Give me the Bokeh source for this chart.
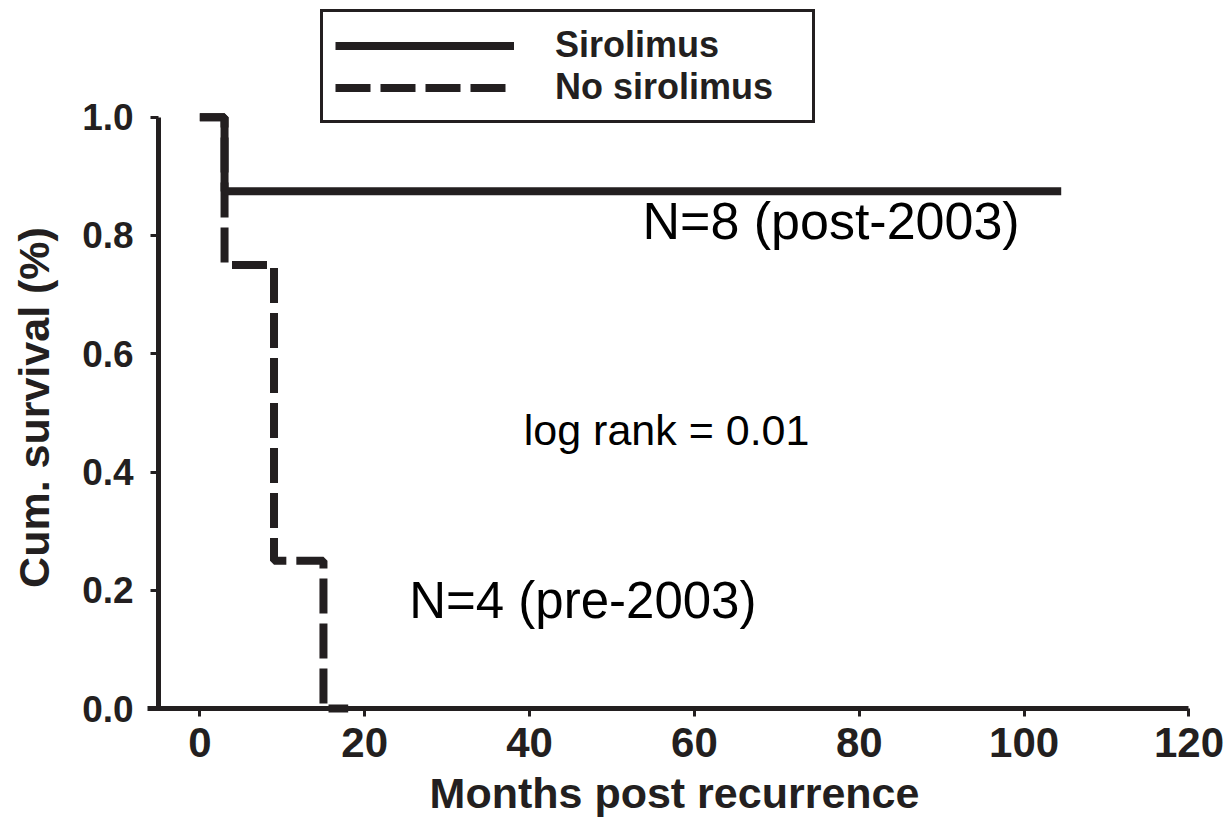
import math
from bokeh.plotting import figure
from bokeh.models import Range1d, Legend, LegendItem, Label, FixedTicker, PrintfTickFormatter
from bokeh.embed import file_html
from bokeh.resources import INLINE

# ---- data (Kaplan-Meier steps) ----
siro_months = [0, 3, 104.5]
siro_surv = [1.0, 0.875, 0.875]
nosiro_months = [0, 3, 9, 15, 18]
nosiro_surv = [1.0, 0.75, 0.25, 0.0, 0.0]

x_ticks = [0, 20, 40, 60, 80, 100, 120]
y_ticks = [0.0, 0.2, 0.4, 0.6, 0.8, 1.0]

legend_labels = ["Sirolimus", "No sirolimus"]
x_title = "Months post recurrence"
y_title = "Cum. survival (%)"
annotations = [
    ("N=8 (post-2003)", 53.7, 0.8248, "52px"),
    ("N=4 (pre-2003)", 25.4, 0.1830, "51px"),
    ("log rank = 0.01", 39.3, 0.4718, "43px"),
]

INK = "#231f20"
FONT = "Liberation Sans"
W, H = 1225, 817

# the frame fills the whole canvas; axes are placed at fixed data locations
p = figure(width=W, height=H,
           x_range=Range1d(-24.18, 124.43), y_range=Range1d(-0.1843, 1.1974),
           output_backend="svg", toolbar_location=None,
           min_border_left=0, min_border_right=0,
           min_border_top=0, min_border_bottom=0)
p.grid.grid_line_color = None
p.outline_line_color = None
p.background_fill_color = "white"
p.border_fill_color = "white"

r_no = p.step(nosiro_months, nosiro_surv, mode="after", line_width=8,
              line_color=INK, line_dash="35 10")
r_si = p.step(siro_months, siro_surv, mode="after", line_width=8,
              line_color=INK)

# x axis
xa = p.xaxis[0]
xa.fixed_location = 0
xa.ticker = FixedTicker(ticks=x_ticks)
xa.bounds = (-6.3, 120)
xa.axis_line_width = 5
xa.axis_line_color = INK
xa.major_tick_line_width = 3
xa.major_tick_line_color = INK
xa.major_tick_in = 0
xa.major_tick_out = 8
xa.minor_tick_line_color = None
xa.major_label_text_font = FONT
xa.major_label_text_font_style = "bold"
xa.major_label_text_font_size = "42px"
xa.major_label_text_color = INK
xa.major_label_standoff = 11

# y axis
ya = p.yaxis[0]
ya.fixed_location = -5
ya.ticker = FixedTicker(ticks=y_ticks)
ya.formatter = PrintfTickFormatter(format="%.1f")
ya.bounds = (0, 1)
ya.axis_line_width = 5
ya.axis_line_color = INK
ya.major_tick_line_width = 3
ya.major_tick_line_color = INK
ya.major_tick_in = 0
ya.major_tick_out = 8
ya.minor_tick_line_color = None
ya.major_label_text_font = FONT
ya.major_label_text_font_style = "bold"
ya.major_label_text_font_size = "37px"
ya.major_label_text_color = INK
ya.major_label_standoff = 17

# axis titles (screen units measured from the frame's bottom-left)
p.add_layout(Label(x=674, y=25, x_units="screen", y_units="screen",
                   text=x_title, text_font=FONT, text_font_style="bold",
                   text_font_size="43px", text_color=INK,
                   text_align="center", text_baseline="alphabetic"))
p.add_layout(Label(x=33, y=H - 407, x_units="screen", y_units="screen",
                   text=y_title, angle=math.pi / 2, text_font=FONT,
                   text_font_style="bold", text_font_size="43px",
                   text_color=INK, text_align="center", text_baseline="middle"))

for txt, x, y, size in annotations:
    p.add_layout(Label(x=x, y=y, text=txt, text_font=FONT, text_font_size=size,
                       text_color="black", text_align="left",
                       text_baseline="alphabetic"))

legend = Legend(
    items=[LegendItem(label=legend_labels[0], renderers=[r_si]),
           LegendItem(label=legend_labels[1], renderers=[r_no])],
    location=(320, H - 123), orientation="vertical",
    padding=12, spacing=0, margin=0,
    glyph_width=179, glyph_height=41, label_standoff=41,
    label_width=245, label_height=41,
    label_text_font=FONT, label_text_font_style="bold",
    label_text_font_size="36px", label_text_color=INK,
    border_line_color=INK, border_line_width=3, border_line_alpha=1.0,
    background_fill_color="white", background_fill_alpha=1.0,
)
p.add_layout(legend)

open("out.html", "w").write(file_html(p, INLINE))
